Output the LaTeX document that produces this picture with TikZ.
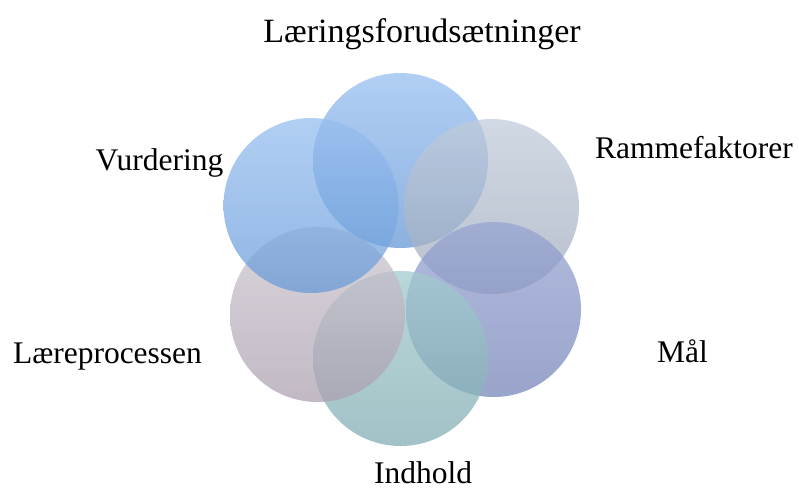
\documentclass[tikz,border=0pt]{standalone}
\usepackage{fontspec}
\setmainfont{Liberation Serif}
\definecolor{topT}{RGB}{150,190,240}
\definecolor{topB}{RGB}{100,150,212}
\definecolor{ramT}{RGB}{192,203,218}
\definecolor{ramB}{RGB}{158,170,188}
\definecolor{malT}{RGB}{150,163,210}
\definecolor{malB}{RGB}{118,132,184}
\definecolor{indT}{RGB}{160,202,206}
\definecolor{indB}{RGB}{128,172,178}
\definecolor{laeT}{RGB}{204,197,207}
\definecolor{laeB}{RGB}{172,160,176}
\definecolor{vurT}{RGB}{150,190,240}
\definecolor{vurB}{RGB}{105,155,216}
\begin{document}
\begin{tikzpicture}[x=1pt,y=-1pt,
  bubble/.style={circle, minimum size=175pt, inner sep=0pt, draw=none, opacity=0.74},
  lbl/.style={anchor=base, text=black, font=\fontsize{31.5}{36}\selectfont}]
\useasboundingbox (0,0) rectangle (799,491);
\node[bubble, top color=topT, bottom color=topB] (c1) at (400.5,160.5) {};
\node[bubble, top color=ramT, bottom color=ramB] (c2) at (491.5,206.5) {};
\node[bubble, top color=malT, bottom color=malB] (c3) at (493.5,309.5) {};
\node[bubble, top color=indT, bottom color=indB] (c4) at (400.5,358.5) {};
\node[bubble, top color=laeT, bottom color=laeB] (c5) at (317.5,314.5) {};
\node[bubble, top color=vurT, bottom color=vurB] (c6) at (311,205.5) {};
\node[lbl, font=\fontsize{34}{38}\selectfont] (t1) at (422,42) {Læringsforudsætninger};
\node[lbl] (t2) at (694,158) {Rammefaktorer};
\node[lbl] (t3) at (682.5,362) {Mål};
\node[lbl] (t4) at (423,483) {Indhold};
\node[lbl] (t5) at (107.5,363) {Læreprocessen};
\node[lbl] (t6) at (159.5,170) {Vurdering};
\end{tikzpicture}
\end{document}
